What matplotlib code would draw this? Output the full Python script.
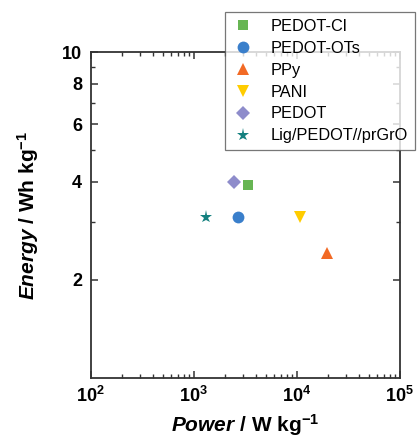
import matplotlib
matplotlib.use('Agg')

import math
from matplotlib import pyplot as plt
from matplotlib.ticker import FixedLocator, FuncFormatter, NullFormatter, LogLocator

plt.rcParams['font.family'] = ['Liberation Sans', 'DejaVu Sans']
plt.rcParams['mathtext.fontset'] = 'custom'
plt.rcParams['mathtext.rm'] = 'Liberation Sans:bold'
plt.rcParams['mathtext.bf'] = 'Liberation Sans:bold'
plt.rcParams['mathtext.it'] = 'Liberation Sans:italic:bold'

# data
labels = ['PEDOT-Cl', 'PEDOT-OTs', 'PPy', 'PANI', 'PEDOT', 'Lig/PEDOT//prGrO']
power = [3360, 2700, 19500, 10700, 2460, 1310]
energy = [3.9, 3.12, 2.42, 3.12, 4.0, 3.12]
markers = ['s', 'o', '^', 'v', 'D', '*']
sizes = [7, 8.5, 9, 9, 7.5, 9.5]
colors = ['#67b553', '#3a7fcb', '#f26a25', '#ffcc00', '#8e8ccb', '#13807f']

y_ticks = [2, 4, 6, 8, 10]
y_minor = [3, 5, 7, 9]

fig = plt.figure(figsize=(4.2, 4.43), dpi=100)
ax = fig.add_axes([0.2155, 0.1467, 0.7365, 0.7359])

handles = []
for p, e, m, s, c, l in zip(power, energy, markers, sizes, colors, labels):
    h, = ax.plot([p], [e], linestyle='none', marker=m, markersize=s, color=c,
                 markeredgewidth=0, label=l)
    handles.append(h)

ax.set_xscale('log')
ax.set_yscale('log')
ax.set_xlim(1e2, 1e5)
ax.set_ylim(1, 10)

ax.xaxis.set_major_locator(FixedLocator([1e2, 1e3, 1e4, 1e5]))
ax.xaxis.set_minor_locator(LogLocator(base=10, subs=range(2, 10)))
ax.xaxis.set_major_formatter(FuncFormatter(lambda v, pos: r'$\mathbf{10^{%d}}$' % round(math.log10(v))))
ax.xaxis.set_minor_formatter(NullFormatter())
ax.yaxis.set_major_locator(FixedLocator(y_ticks))
ax.yaxis.set_minor_locator(FixedLocator(y_minor))
ax.yaxis.set_major_formatter(FuncFormatter(lambda v, pos: '%d' % v))
ax.yaxis.set_minor_formatter(NullFormatter())

for sp in ax.spines.values():
    sp.set_color('#333333')
    sp.set_linewidth(1.3)
ax.tick_params(which='both', direction='in', top=True, right=True, color='#333333')
ax.tick_params(which='major', length=5, width=1.1, labelsize=13, pad=6)
ax.tick_params(which='minor', length=3, width=1.0)
for t in ax.get_yticklabels():
    t.set_fontweight('bold')

ax.set_xlabel(r'$\it{Power}$ / W kg$^{-1}$', fontsize=15, fontweight='bold', labelpad=4)
ax.set_ylabel(r'$\it{Energy}$ / Wh kg$^{-1}$', fontsize=15, fontweight='bold', labelpad=15)

leg = fig.legend(handles=handles, loc='upper left', bbox_to_anchor=(0.536, 0.972),
                 fontsize=11.8, frameon=True, fancybox=False, edgecolor='#555555',
                 borderpad=0.4, labelspacing=0.42, handletextpad=1.0, handlelength=1.4,
                 borderaxespad=0)
leg.get_frame().set_linewidth(0.9)

plt.savefig('out.png', dpi=100)
